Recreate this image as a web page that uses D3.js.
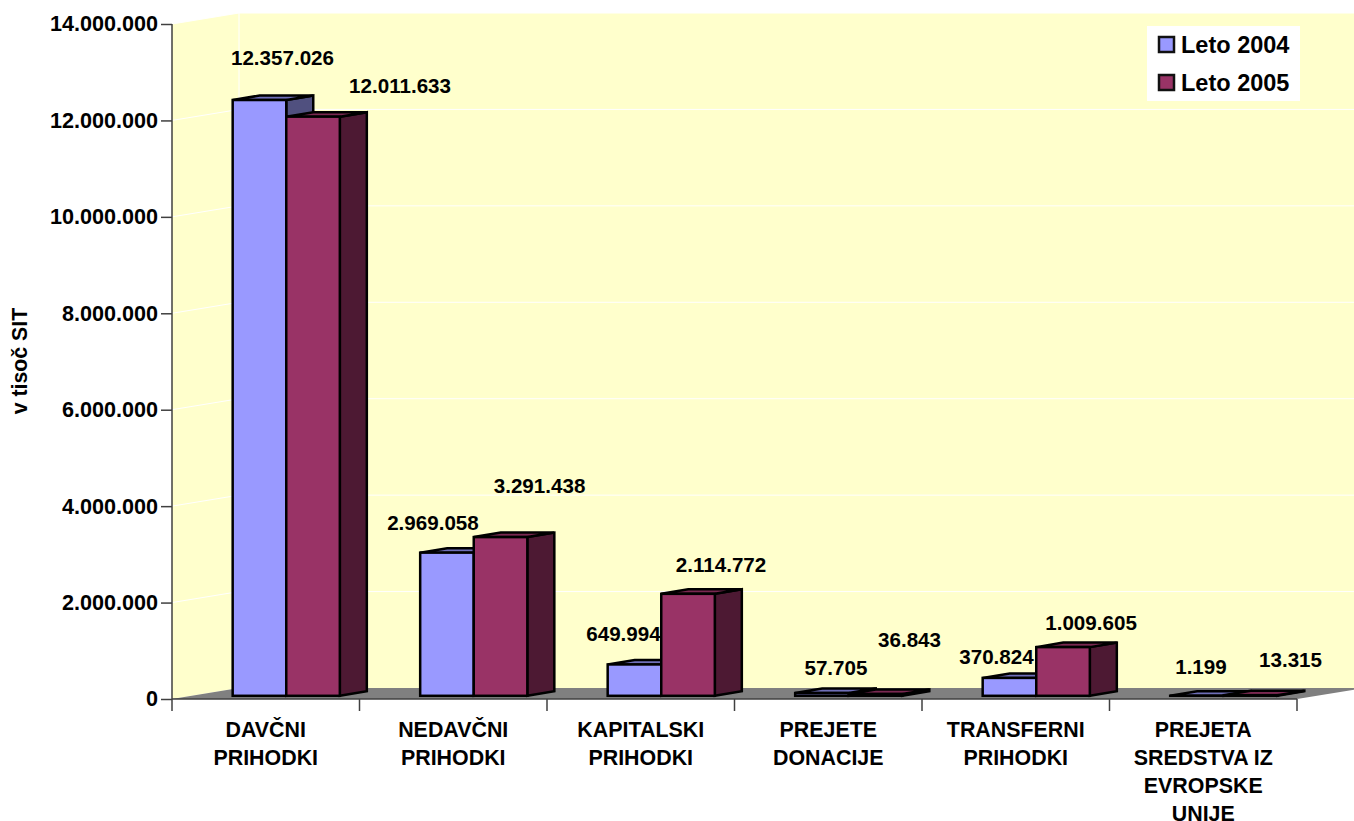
<!DOCTYPE html>
<html>
<head>
<meta charset="utf-8">
<script src="https://cdn.jsdelivr.net/npm/d3@7"></script>
<style>
  html, body { margin: 0; background: #fff; }
  svg { display: block; }
  text { font-family: "Liberation Sans", Arial, sans-serif; font-weight: bold; fill: #000; }
</style>
</head>
<body>
<div id="chart"></div>
<script>
var categories = [
  ["DAVČNI", "PRIHODKI"],
  ["NEDAVČNI", "PRIHODKI"],
  ["KAPITALSKI", "PRIHODKI"],
  ["PREJETE", "DONACIJE"],
  ["TRANSFERNI", "PRIHODKI"],
  ["PREJETA", "SREDSTVA IZ", "EVROPSKE", "UNIJE"]
];
var leto2004 = [12357026, 2969058, 649994, 57705, 370824, 1199];
var leto2005 = [12011633, 3291438, 2114772, 36843, 1009605, 13315];
var seriesNames = ["Leto 2004", "Leto 2005"];
var yTicks = [0, 2000000, 4000000, 6000000, 8000000, 10000000, 12000000, 14000000];

// label nudges from the bar top centre, [dx, baseline dy]
var labelNudge2004 = [[23, -35], [-14, -23], [-11, -23], [14, -18], [-13, -14], [4, -22]];
var labelNudge2005 = [[87, -24], [39, -44], [33, -22], [34, -47], [28, -17], [40, -28]];

var width = 1354, height = 821;
var plotLeft = 172, plotRight = 1297, plotBottom = 699, plotTop = 24;
var wallDx = 67, wallDy = -11;    // how far the back wall sits behind the front plane
var barDx = 27, barDy = -4.5;     // depth of a bar
var frontDx = 20.5, frontDy = -3.2; // bars stand a bit behind the front edge

var colors = ["#9999FF", "#993366"];
var topColors = ["#6F6FB8", "#7A2851"];
var sideColors = ["#50507F", "#4D1933"];

var svg = d3.select("#chart").append("svg").attr("width", width).attr("height", height);

var y = d3.scaleLinear().domain([0, 14000000]).range([plotBottom, plotTop]);
var x0 = d3.scaleBand().domain(d3.range(categories.length)).range([plotLeft, plotRight]);
var x1 = d3.scaleBand().domain([0, 1]).range([0, x0.bandwidth()]).paddingInner(0).paddingOuter(0.75);

var locale = d3.formatLocale({ decimal: ",", thousands: ".", grouping: [3], currency: ["", ""] });
var fmt = locale.format(",d");

function pts(a) { return a.map(function(p) { return p.join(","); }).join(" "); }

// walls
svg.append("polygon").attr("fill", "#FFFFCC")
  .attr("points", pts([[plotLeft, plotTop], [plotLeft + wallDx, plotTop + wallDy], [width + 20, plotTop + wallDy], [width + 20, plotBottom + wallDy], [plotLeft + wallDx, plotBottom + wallDy], [plotLeft, plotBottom]]));

// gridlines: slanted on the side wall, flat on the back wall
var grid = svg.append("g").attr("stroke", "#fff").attr("stroke-width", 1).attr("fill", "none");
grid.selectAll("polyline").data(yTicks.slice(1)).enter().append("polyline")
  .attr("points", function(d) {
    return pts([[plotLeft, y(d)], [plotLeft + wallDx, y(d) + wallDy], [width + 20, y(d) + wallDy]]);
  });
grid.append("line").attr("x1", plotLeft + wallDx).attr("x2", plotLeft + wallDx)
  .attr("y1", plotTop + wallDy).attr("y2", plotBottom + wallDy);

// floor
svg.append("polygon").attr("fill", "#808080")
  .attr("points", pts([[plotLeft, plotBottom], [plotLeft + wallDx, plotBottom + wallDy], [plotRight + wallDx, plotBottom + wallDy], [plotRight, plotBottom]]));

// bars
var rows = [];
categories.forEach(function(c, i) {
  rows.push({ cat: i, s: 0, v: leto2004[i] });
  rows.push({ cat: i, s: 1, v: leto2005[i] });
});

var bar = svg.selectAll("g.bar").data(rows).enter().append("g").attr("class", "bar")
  .attr("stroke", "#000").attr("stroke-width", 2.5).attr("stroke-linejoin", "miter");

function box(d) {
  var xa = x0(d.cat) + x1(d.s) + frontDx, xb = xa + x1.bandwidth();
  var yb = plotBottom + frontDy, yt = y(d.v) + frontDy;
  return { xa: xa, xb: xb, yb: yb, yt: yt };
}

bar.append("polygon").attr("fill", function(d) { return sideColors[d.s]; })
  .attr("points", function(d) {
    var b = box(d);
    return pts([[b.xb, b.yt], [b.xb + barDx, b.yt + barDy], [b.xb + barDx, b.yb + barDy], [b.xb, b.yb]]);
  });
bar.append("polygon").attr("fill", function(d) { return topColors[d.s]; })
  .attr("points", function(d) {
    var b = box(d);
    return pts([[b.xa, b.yt], [b.xa + barDx, b.yt + barDy], [b.xb + barDx, b.yt + barDy], [b.xb, b.yt]]);
  });
bar.append("rect").attr("fill", function(d) { return colors[d.s]; })
  .attr("x", function(d) { return box(d).xa; })
  .attr("y", function(d) { return box(d).yt; })
  .attr("width", x1.bandwidth())
  .attr("height", function(d) { var b = box(d); return b.yb - b.yt; });

// value labels
svg.selectAll("text.val").data(rows).enter().append("text").attr("class", "val")
  .attr("text-anchor", "middle").attr("font-size", 20.6)
  .attr("x", function(d) {
    var n = d.s ? labelNudge2005[d.cat] : labelNudge2004[d.cat];
    return x0(d.cat) + x1(d.s) + frontDx + x1.bandwidth() / 2 + n[0];
  })
  .attr("y", function(d) {
    var n = d.s ? labelNudge2005[d.cat] : labelNudge2004[d.cat];
    return box(d).yt + n[1];
  })
  .text(function(d) { return fmt(d.v); });

// axes
var yAxis = d3.axisLeft(y).tickValues(yTicks).tickSize(11).tickPadding(3).tickFormat(fmt);
var gy = svg.append("g").attr("transform", "translate(" + plotLeft + ",0)").call(yAxis);
gy.selectAll("text").attr("font-size", 21.6).attr("font-family", null);
gy.selectAll("path,line").attr("stroke", "#404040").attr("stroke-width", 1.5);
gy.select(".domain").attr("d", "M0," + plotTop + "V" + plotBottom);

var gx = svg.append("g").attr("stroke", "#404040").attr("stroke-width", 1.5);
gx.append("line").attr("x1", plotLeft).attr("x2", plotRight).attr("y1", plotBottom).attr("y2", plotBottom);
gx.selectAll("line.t").data(d3.range(categories.length + 1)).enter().append("line").attr("class", "t")
  .attr("x1", function(i) { return plotLeft + i * x0.step(); })
  .attr("x2", function(i) { return plotLeft + i * x0.step(); })
  .attr("y1", plotBottom).attr("y2", plotBottom + 12);

// category labels
var catLabel = svg.selectAll("text.cat").data(categories).enter().append("text").attr("class", "cat")
  .attr("text-anchor", "middle").attr("font-size", 21.4)
  .attr("x", function(d, i) { return x0(i) + x0.bandwidth() / 2; });
catLabel.selectAll("tspan").data(function(d) { return d; }).enter().append("tspan")
  .attr("x", function() { return d3.select(this.parentNode).attr("x"); })
  .attr("y", function(d, i) { return 736.5 + i * 28; })
  .text(function(d) { return d; });

// axis title
svg.append("text").attr("transform", "translate(27,361) rotate(-90)")
  .attr("text-anchor", "middle").attr("font-size", 21.3).text("v tisoč SIT");

// legend
var legend = svg.append("g");
legend.append("rect").attr("x", 1147).attr("y", 26).attr("width", 153).attr("height", 75).attr("fill", "#fff");
var item = legend.selectAll("g").data(seriesNames).enter().append("g")
  .attr("transform", function(d, i) { return "translate(1159," + (37 + i * 38) + ")"; });
item.append("rect").attr("width", 15).attr("height", 15)
  .attr("fill", function(d, i) { return colors[i]; }).attr("stroke", "#111").attr("stroke-width", 2.5);
item.append("text").attr("x", 22).attr("y", 16).attr("font-size", 23.5).text(function(d) { return d; });
</script>
</body>
</html>
